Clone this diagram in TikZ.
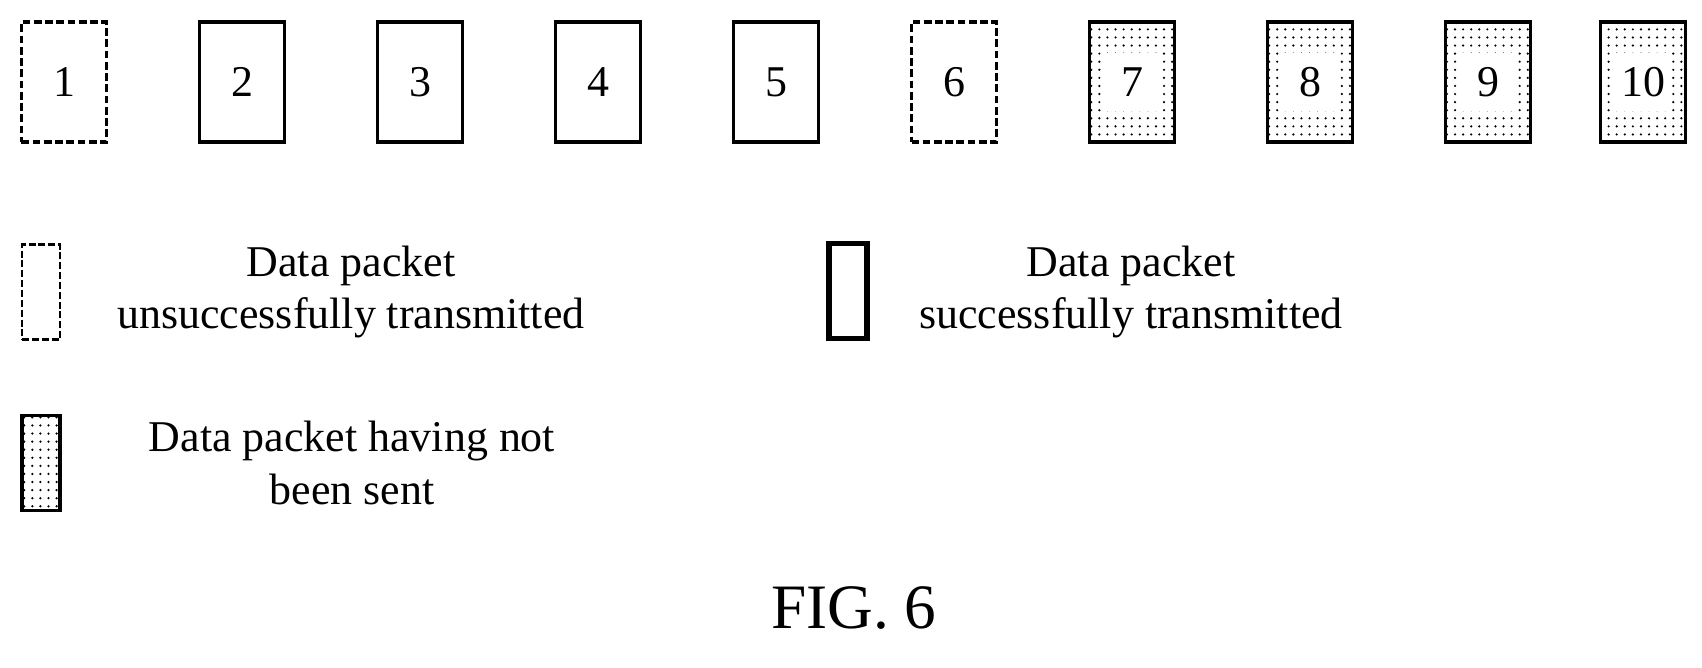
\documentclass[tikz,border=0pt]{standalone}
\usepackage{fontspec}
\setmainfont{Liberation Serif}
\usetikzlibrary{positioning,calc,patterns.meta}

\begin{document}
\begin{tikzpicture}[node distance=1.78cm, font=\fontsize{12.5}{15}\selectfont]
\tikzstyle{packet}=[draw=black,line width=1pt,minimum width=0.85cm,minimum height=1.2cm,inner sep=0pt]
\tikzstyle{failed}=[packet,dash pattern=on 2.2pt off 1pt]
\tikzstyle{unsent}=[packet,pattern={Dots[distance=2.3pt,radius=0.35pt]},
  path picture={\fill[white] ($(path picture bounding box.center)+(-.28,-.29)$) rectangle +(.56,.58);}]
\tikzstyle{legend}=[inner sep=0pt,minimum width=0.38cm,minimum height=0.95cm]
\useasboundingbox (0,0) rectangle (17.02,-6.68);
% packets
\node[failed]   (p1)  at (0.64,-0.82)      {1};
\node[packet]   (p2)  [right of=p1]        {2};
\node[packet]   (p3)  [right of=p2]        {3};
\node[packet]   (p4)  [right of=p3]        {4};
\node[packet]   (p5)  [right of=p4]        {5};
\node[failed]   (p6)  [right of=p5]        {6};
\node[unsent]   (p7)  [right of=p6]        {7};
\node[unsent]   (p8)  [right of=p7]        {8};
\node[unsent]   (p9)  [right of=p8]        {9};
\node[unsent]   (p10) [right of=p9,node distance=1.55cm] {10};
% legend
\node[legend,draw,line width=0.6pt,dash pattern=on 2pt off 0.8pt] (lf) at (0.41,-2.92) {};
\node[align=center] (tf) at (3.51,-2.92) {Data packet\\unsuccessfully transmitted};
\node[legend,draw,line width=1.6pt] (ls) at (8.48,-2.91) {};
\node[align=center] (ts) at (11.31,-2.92) {Data packet\\successfully transmitted};
\node[legend,draw,line width=1pt,pattern={Dots[distance=2.3pt,radius=0.35pt]}] (lu) at (0.41,-4.63) {};
\node[align=center] (tu) at (3.52,-4.63) {Data packet having not\\been sent};
% caption
\node (fig) at (8.54,-6.08) {\fontsize{18}{20}\selectfont FIG. 6};
\end{tikzpicture}
\end{document}
